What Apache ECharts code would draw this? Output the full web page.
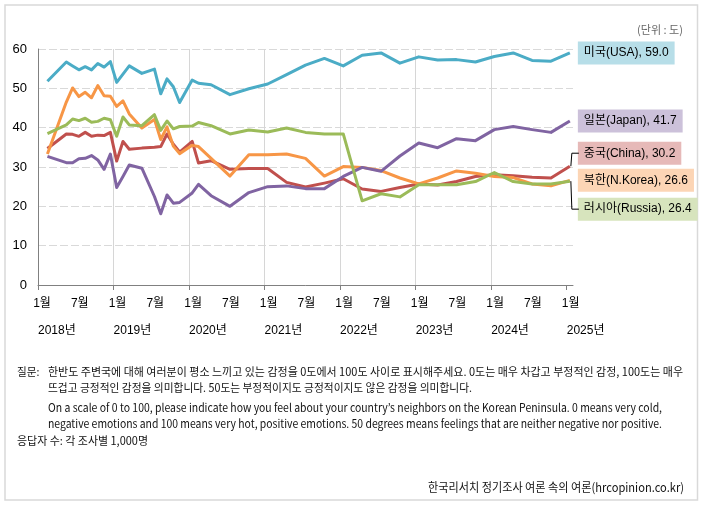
<!DOCTYPE html>
<html><head><meta charset="utf-8">
<script src="https://cdn.jsdelivr.net/npm/echarts@6/dist/echarts.min.js"></script>
<style>html,body{margin:0;padding:0;background:#fff}#c{width:704px;height:507px}</style>
</head><body><div id="c"></div>
<script>
// survey timing, in months since Jan 2018 (0 = 1월 2018)
const months = [1.5, 4.5, 5.5, 6.5, 7.5, 8.5, 9.5, 10.5, 11.5, 12.5, 13.5, 14.5, 16.5, 18.5, 19.5, 20.5, 21.5, 22.5, 24.5, 25.5, 27.5, 30.5, 33.5, 36.5, 39.5, 42.5, 45.5, 48.5, 51.5, 54.5, 57.5, 60.5, 63.5, 66.5, 69.5, 72.5, 75.5, 78.5, 81.5, 84.5];
const usa    = [51.8, 56.7, 55.7, 54.7, 55.5, 54.7, 56.3, 55.4, 56.8, 51.5, 53.6, 55.7, 53.8, 54.9, 48.6, 52.4, 50.4, 46.4, 52.1, 51.3, 50.9, 48.4, 49.9, 51.1, 53.5, 55.9, 57.6, 55.7, 58.4, 59.0, 56.4, 58.0, 57.2, 57.3, 56.7, 58.1, 59.0, 57.1, 56.9, 59.0];
const nkorea = [33.3, 46.5, 50.1, 47.9, 49.0, 47.6, 50.7, 48.1, 48.0, 45.4, 46.8, 43.5, 39.9, 42.1, 37.0, 40.2, 35.3, 33.4, 35.5, 35.2, 32.2, 27.7, 33.1, 33.1, 33.3, 32.2, 27.7, 30.1, 29.9, 29.1, 27.2, 25.7, 27.2, 29.0, 28.4, 27.6, 27.3, 25.7, 25.2, 26.6];
const russia = [38.5, 40.7, 42.2, 41.8, 42.4, 41.4, 41.6, 42.4, 42.0, 37.8, 42.7, 40.7, 40.5, 43.3, 39.3, 41.7, 39.7, 40.3, 40.4, 41.3, 40.5, 38.4, 39.4, 38.9, 39.9, 38.8, 38.4, 38.4, 21.4, 23.2, 22.4, 25.5, 25.5, 25.5, 26.3, 28.6, 26.3, 25.7, 25.7, 26.4];
const china  = [34.7, 38.4, 38.3, 37.8, 38.8, 37.8, 38.1, 38.0, 38.8, 31.5, 36.5, 34.5, 34.8, 35.0, 35.2, 38.4, 35.8, 33.8, 36.5, 31.0, 31.6, 29.4, 29.6, 29.6, 26.1, 24.9, 25.9, 27.0, 24.4, 23.8, 24.8, 25.7, 25.4, 26.3, 27.6, 28.0, 27.8, 27.4, 27.2, 30.2];
const japan  = [32.7, 31.1, 31.1, 32.1, 32.2, 32.9, 31.8, 29.4, 33.3, 24.8, 27.6, 30.5, 29.7, 22.5, 18.1, 22.9, 20.8, 21.0, 23.4, 25.6, 22.7, 20.0, 23.5, 25.0, 25.2, 24.5, 24.5, 27.6, 29.9, 28.9, 32.8, 36.1, 34.9, 37.2, 36.7, 39.5, 40.3, 39.5, 38.8, 41.7];
const years = ['2018년', '2019년', '2020년', '2021년', '2022년', '2023년', '2024년', '2025년'];
const seriesNames = ['미국(USA)', '중국(China)', '북한(N.Korea)', '일본(Japan)', '러시아(Russia)'];
const yTicks = [0, 10, 20, 30, 40, 50, 60];

const FONT = '"Liberation Sans", "Noto Sans CJK KR", sans-serif';
const KFONT = '"Noto Sans CJK KR", sans-serif';

const chart = echarts.init(document.getElementById('c'), null, {renderer: 'canvas'});

function mk(name, vals, color, bg, dy) {
  return {
    name: name, type: 'line', symbol: 'none', smooth: false,
    data: months.map((m, i) => [m, vals[i]]),
    lineStyle: {color: color, width: 3, join: 'round'},
    itemStyle: {color: color},
    emphasis: {disabled: true},
    endLabel: {
      show: true,
      formatter: p => p.seriesName + ', ' + p.value[1].toFixed(1),
      backgroundColor: bg, color: '#000', fontSize: 12, fontFamily: FONT,
      padding: [6, 6, 5, 6], distance: 8, offset: [0, dy]
    }
  };
}

const yearTickVals = years.map((y, i) => i * 12);

chart.setOption({
  animation: false,
  grid: {left: 38, right: 131, top: 49, bottom: 222},
  xAxis: [{
    type: 'value', min: 0, max: 85, interval: 6,
    axisLine: {show: true, lineStyle: {color: '#808080', width: 1}},
    axisTick: {show: false},
    splitLine: {show: false},
    axisLabel: {
      margin: 13, color: '#000', fontSize: 12, fontFamily: FONT,
      showMaxLabel: false,
      formatter: v => (v % 12 === 0 ? '{m|1월}' : (v % 12 === 6 ? '{m|7월}' : '')),
      rich: {m: {padding: [0, 0, 0, 8], fontSize: 12, fontFamily: FONT, color: '#000'}}
    }
  }, {
    type: 'value', min: 0, max: 85, interval: 12, position: 'bottom',
    axisLine: {show: false},
    axisTick: {show: true, length: 5, lineStyle: {color: '#808080'}, customValues: yearTickVals},
    splitLine: {show: true, showMaxLine: false, showMinLine: false, lineStyle: {color: '#d6d6d6', width: 1}},
    axisLabel: {
      margin: 40, color: '#000', fontSize: 12, fontFamily: FONT, align: 'left',
      showMaxLabel: false,
      formatter: v => (v % 12 === 0 && years[v / 12]) ? years[v / 12] : ''
    }
  }],
  yAxis: {
    type: 'value', min: 0, max: 60, interval: 10,
    axisLine: {show: true, lineStyle: {color: '#808080', width: 1}},
    axisTick: {show: false},
    splitLine: {show: true, lineStyle: {color: '#d9d9d9', width: 1, type: [8, 3]}},
    axisLabel: {margin: 11, color: '#000', fontSize: 13, fontFamily: FONT,
      formatter: v => yTicks.indexOf(v) >= 0 ? String(v) : ''}
  },
  series: [
    mk(seriesNames[0], usa, '#4bacc6', '#b7dee8', 0),
    mk(seriesNames[1], china, '#c0504d', '#e6b9b8', -13),
    mk(seriesNames[2], nkorea, '#f79646', '#fcd5b5', 0),
    mk(seriesNames[3], japan, '#8064a2', '#ccc1da', 0),
    mk(seriesNames[4], russia, '#9bbb59', '#d7e4bd', 28)
  ]
});

// text fitting
const cv = document.createElement('canvas').getContext('2d');
function fit(text, font, target) {
  cv.font = font;
  const w = cv.measureText(text).width;
  return target / w;
}
const nf = '11.5px ' + KFONT;
const notes = [
  {t: '질문:', x: 17, y: 372, w: 0},
  {t: '한반도 주변국에 대해 여러분이 평소 느끼고 있는 감정을 0도에서 100도 사이로 표시해주세요. 0도는 매우 차갑고 부정적인 감정, 100도는 매우', x: 48, y: 372, w: 635},
  {t: '뜨겁고 긍정적인 감정을 의미합니다. 50도는 부정적이지도 긍정적이지도 않은 감정을 의미합니다.', x: 48, y: 388, w: 424},
  {t: 'On a scale of 0 to 100, please indicate how you feel about your country\u2019s neighbors on the Korean Peninsula. 0 means very cold,', x: 48, y: 408, w: 614},
  {t: 'negative emotions and 100 means very hot, positive emotions. 50 degrees means feelings that are neither negative nor positive.', x: 48, y: 424, w: 614},
  {t: '응답자 수: 각 조사별 1,000명', x: 17, y: 441, w: 131}
];
const g = [];
g.push({type: 'rect', shape: {x: 5, y: 5, width: 692.5, height: 495}, style: {fill: 'none', stroke: '#d9d9d9', lineWidth: 1.5}, silent: true, z: -1});
notes.forEach(n => {
  const s = n.w ? fit(n.t, nf, n.w) : 0.92;
  g.push({type: 'text', x: n.x, y: n.y, scaleX: s, silent: true,
    style: {text: n.t, font: nf, fill: '#111', verticalAlign: 'middle', align: 'left'}});
});
const src = '한국리서치 정기조사 여론 속의 여론(hrcopinion.co.kr)';
g.push({type: 'text', x: 684, y: 487, scaleX: fit(src, '12px ' + KFONT, 256), silent: true,
  style: {text: src, font: '12px ' + KFONT, fill: '#111', verticalAlign: 'middle', align: 'right'}});
const unit = '(단위 : 도)';
g.push({type: 'text', x: 683, y: 30, scaleX: fit(unit, '11px ' + KFONT, 46), silent: true,
  style: {text: unit, font: '11px ' + KFONT, fill: '#666', verticalAlign: 'middle', align: 'right'}});

// leader lines for shifted end labels
const last = months.length - 1;
[[1, china, -13], [4, russia, 28]].forEach(([si, vals, dy]) => {
  const p = chart.convertToPixel({seriesIndex: si}, [months[last], vals[last]]);
  g.push({type: 'polyline', silent: true, z: 10,
    shape: {points: [[p[0] + 1, p[1]], [p[0] + 2, p[1] + dy], [p[0] + 9, p[1] + dy]]},
    style: {stroke: '#000', lineWidth: 1, fill: 'none'}});
});
chart.setOption({graphic: g});
</script></body></html>
